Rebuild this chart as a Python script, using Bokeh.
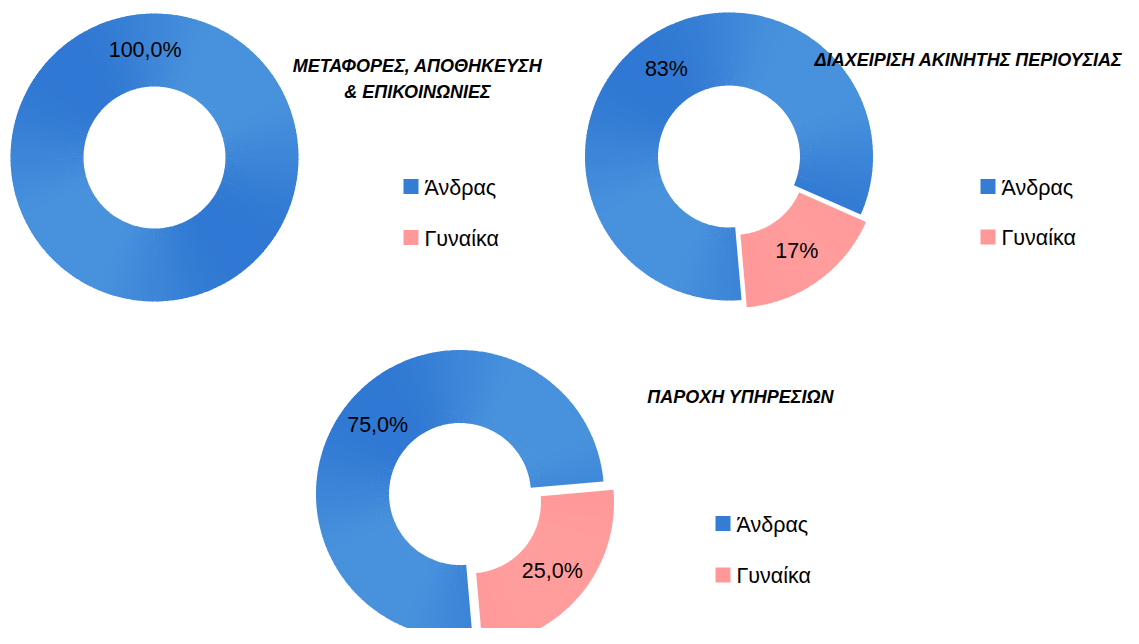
import math
from bokeh.plotting import figure
from bokeh.models import Range1d, ColumnDataSource
from bokeh.core.properties import value
from bokeh.embed import file_html
from bokeh.resources import INLINE

# ---------------- data ----------------
categories = ["Άνδρας", "Γυναίκα"]
chart_titles = [
    ["ΜΕΤΑΦΟΡΕΣ, ΑΠΟΘΗΚΕΥΣΗ", "& ΕΠΙΚΟΙΝΩΝΙΕΣ"],
    ["ΔΙΑΧΕΙΡΙΣΗ ΑΚΙΝΗΤΗΣ ΠΕΡΙΟΥΣΙΑΣ"],
    ["ΠΑΡΟΧΗ ΥΠΗΡΕΣΙΩΝ"],
]
men = [100.0, 83.0, 75.0]
women = [0.0, 17.0, 25.0]
label_decimals = [1, 0, 1]

# ---------------- layout / style ----------------
H = 644  # reference picture height (pixel y -> data y = H - py)
centers = [(154.0, 157.0), (728.5, 156.0), (459.5, 493.5)]
R_OUT, R_IN = 144.0, 71.0
explode_women = [0.0, 9.0, 13.0]
START = -85.0  # degrees (maths convention) where first slice starts, going clockwise
title_pos = [(417.0, [65.5, 91.5]), (968.0, [59.0]), (740.0, [396.5])]
legend_pos = [((410.5, 186.0), (410.5, 237.0)),
              ((987.5, 186.0), (987.5, 236.5)),
              ((722.5, 523.0), (722.5, 574.5))]

FONT = "Liberation Sans"
blue_dark, blue_light = (32, 104, 205), (72, 145, 220)
pink_dark, pink_light = (255, 142, 142), (255, 170, 170)


def hexc(c):
    return "#%02x%02x%02x" % tuple(int(round(v)) for v in c)


def mix(a, b, t):
    return tuple(a[i] + (b[i] - a[i]) * t for i in range(3))


def smooth(e0, e1, x):
    t = min(1.0, max(0.0, (x - e0) / (e1 - e0)))
    return t * t * (3 - 2 * t)


p = figure(width=1123, height=628, x_range=Range1d(0, 1123), y_range=Range1d(H - 628, H),
           output_backend="svg", toolbar_location=None, min_border=0,
           x_axis_location=None, y_axis_location=None)
p.grid.visible = False
p.outline_line_color = None
p.background_fill_color = "white"
p.border_fill_color = "white"

wx, wy, ws, we, wc = [], [], [], [], []
lab_x, lab_y, lab_t = [], [], []

for k in range(3):
    cx, cyp = centers[k]
    cy = H - cyp
    vals = [men[k], women[k]]
    total = sum(vals)
    ends_at = START
    for s, v in enumerate(vals):
        if v <= 0:
            continue
        span = 360.0 * v / total
        a1 = ends_at          # slice end (anticlockwise end)
        a0 = ends_at - span   # slice start
        ends_at = a0
        bis = math.radians((a0 + a1) / 2.0)
        e = 0.0 if s == 0 else explode_women[k]
        ox, oy = cx + e * math.cos(bis), cy + e * math.sin(bis)
        n = max(1, int(math.ceil(span / 2.0)))
        step = span / n
        pts = []
        for i in range(n + 1):
            a = math.radians(a0 + i * step)
            for rr in (R_IN, R_OUT):
                pts.append((ox + rr * math.cos(a), oy + rr * math.sin(a)))
        xs = [q[0] for q in pts]
        ys = [q[1] for q in pts]
        bx0, bx1 = min(xs), max(xs)
        by0, by1 = min(ys), max(ys)
        full = span >= 359.9
        for i in range(n):
            sa = a0 + i * step
            ea = sa + step
            if i < n - 1 or full:
                ea += 0.4  # tiny overlap hides anti-alias seams
            am = math.radians(sa + step / 2.0)
            mx = ox + (R_IN + R_OUT) / 2 * math.cos(am)
            my = oy + (R_IN + R_OUT) / 2 * math.sin(am)
            t = ((mx - bx0) / (bx1 - bx0) + (by1 - my) / (by1 - by0)) / 2.0
            if s == 0:
                f = 1 - abs(2 * t - 1)
                col = mix(blue_dark, blue_light, smooth(0.2, 0.85, f))
            else:
                col = mix(pink_dark, pink_light, t)
            wx.append(ox); wy.append(oy)
            ws.append(math.radians(sa)); we.append(math.radians(ea))
            wc.append(hexc(col))
        rm = (R_IN + R_OUT) / 2.0
        lab_x.append(ox + rm * math.cos(bis))
        lab_y.append(oy + rm * math.sin(bis))
        txt = ("%.*f" % (label_decimals[k], v)).replace(".", ",") + "%"
        lab_t.append(txt)

p.annular_wedge(x="x", y="y", inner_radius=R_IN, outer_radius=R_OUT,
                start_angle="s", end_angle="e", fill_color="c", line_color=None,
                source=ColumnDataSource(dict(x=wx, y=wy, s=ws, e=we, c=wc)))

p.text(x=lab_x, y=lab_y, text=lab_t, text_font=value(FONT), text_font_size="21.5px",
       text_align="center", text_baseline="middle", text_color="#000000")

# titles
tx, ty, tt = [], [], []
for k in range(3):
    x0, ylist = title_pos[k]
    for line, yy in zip(chart_titles[k], ylist):
        tx.append(x0); ty.append(H - yy); tt.append(line)
p.text(x=tx, y=ty, text=tt, text_font=value(FONT), text_font_size="18px",
       text_font_style="bold italic", text_align="center", text_baseline="middle",
       text_color="#000000")

# legends
leg_cols = [hexc(mix(blue_dark, blue_light, 0.5)), hexc(mix(pink_dark, pink_light, 0.4))]
sqx, sqy, sqc, ltx, lty, ltt = [], [], [], [], [], []
for k in range(3):
    for j in range(2):
        x0, y0 = legend_pos[k][j]
        sqx.append(x0); sqy.append(H - y0); sqc.append(leg_cols[j])
        ltx.append(x0 + 13.5); lty.append(H - y0 - 1); ltt.append(categories[j])
p.rect(x=sqx, y=sqy, width=15, height=15, fill_color=sqc, line_color=None)
p.text(x=ltx, y=lty, text=ltt, text_font=value(FONT), text_font_size="21.5px",
       text_align="left", text_baseline="middle", text_color="#000000")

open("out.html", "w").write(file_html(p, INLINE))
